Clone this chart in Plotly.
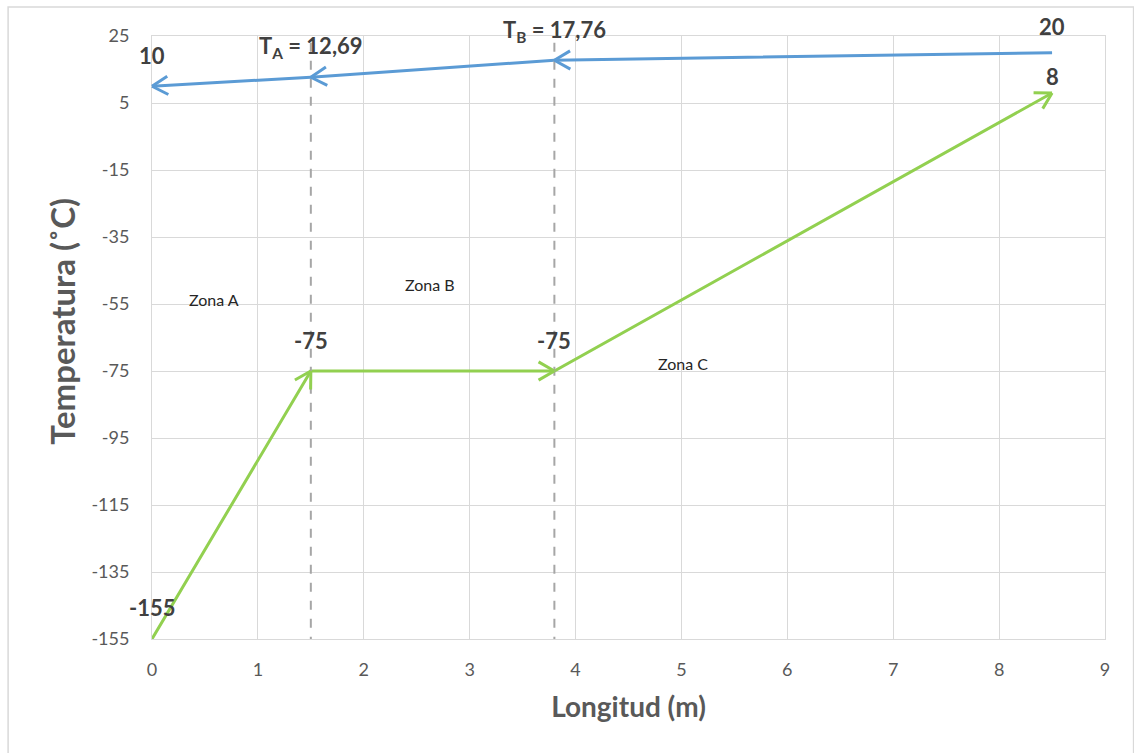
import math
import plotly.graph_objects as go

# Longitud (m) and temperatures (°C) for the two streams
longitud = [0, 1.5, 3.8, 8.5]
temp_caliente = [10, 12.69, 17.76, 20]     # blue stream, flows right -> left
temp_fria = [-155, -75, -75, 8]            # green stream, flows left -> right

divisiones = [1.5, 3.8]
zonas = ["Zona A", "Zona B", "Zona C"]
zona_x = [0.59, 2.63, 5.01]
zona_y = [-53.8, -49.3, -72.9]

x_ticks = list(range(0, 10))
y_ticks = [25, 5, -15, -35, -55, -75, -95, -115, -135, -155]
x_range = [0, 9]
y_range = [-155, 25]

AZUL = "#5b9bd5"
VERDE = "#92d050"
GRIS = "#595959"
FONT = "Lato"

W, H = 1134, 753
M = dict(l=152, r=29, t=36, b=114)
plot_w = W - M["l"] - M["r"]
plot_h = H - M["t"] - M["b"]
sx = plot_w / (x_range[1] - x_range[0])   # px per metre
sy = plot_h / (y_range[1] - y_range[0])   # px per degree

fig = go.Figure()

# zone boundaries
for xd in divisiones:
    fig.add_shape(type="line", xref="x", yref="y", x0=xd, x1=xd, y0=-157, y1=25,
                  line=dict(color="#a6a6a6", width=2, dash="dash"), layer="above")

fig.add_trace(go.Scatter(x=longitud, y=temp_caliente, mode="lines",
                         line=dict(color=AZUL, width=3), cliponaxis=False,
                         showlegend=False, hoverinfo="skip"))
fig.add_trace(go.Scatter(x=longitud, y=temp_fria, mode="lines",
                         line=dict(color=VERDE, width=3), cliponaxis=False,
                         showlegend=False, hoverinfo="skip"))

ann = []


def punta(x0, y0, x1, y1, color, largo=20, abertura=30):
    """Open chevron arrowhead at (x1, y1) for a segment coming from (x0, y0)."""
    dx = (x1 - x0) * sx
    dy = -(y1 - y0) * sy
    n = math.hypot(dx, dy)
    ux, uy = dx / n, dy / n
    for s in (1, -1):
        a = math.radians(abertura) * s
        rx = ux * math.cos(a) - uy * math.sin(a)
        ry = ux * math.sin(a) + uy * math.cos(a)
        ann.append(dict(x=x1, y=y1, xref="x", yref="y", ax=-largo * rx, ay=-largo * ry,
                        text="", showarrow=True, arrowhead=0, arrowwidth=3,
                        arrowcolor=color, standoff=0))


for i in range(len(longitud) - 1):
    # hot stream runs from longitud[i+1] to longitud[i]
    punta(longitud[i + 1], temp_caliente[i + 1], longitud[i], temp_caliente[i], AZUL)
    # cold stream runs from longitud[i] to longitud[i+1]
    punta(longitud[i], temp_fria[i], longitud[i + 1], temp_fria[i + 1], VERDE)

lbl_font = dict(family=FONT, size=22, color="#404040")


def etiqueta(x, y, texto, yshift):
    ann.append(dict(x=x, y=y, xref="x", yref="y", text=texto, showarrow=False,
                    yshift=yshift, font=lbl_font))


def coma(v):
    return f"{v:.2f}".replace(".", ",")


etiqueta(longitud[0], temp_caliente[0], "<b>%g</b>" % temp_caliente[0], 31)
etiqueta(longitud[1], temp_caliente[1], "<b>T<sub>A</sub> = %s</b>" % coma(temp_caliente[1]), 30)
etiqueta(longitud[2], temp_caliente[2], "<b>T<sub>B</sub> = %s</b>" % coma(temp_caliente[2]), 29)
etiqueta(longitud[3], temp_caliente[3], "<b>%g</b>" % temp_caliente[3], 26)
etiqueta(longitud[0], temp_fria[0], "<b>%g</b>" % temp_fria[0], 32)
etiqueta(longitud[1], temp_fria[1], "<b>%g</b>" % temp_fria[1], 31)
etiqueta(longitud[2], temp_fria[2], "<b>%g</b>" % temp_fria[2], 31)
etiqueta(longitud[3], temp_fria[3], "<b>%g</b>" % temp_fria[3], 16)

for z, zx, zy in zip(zonas, zona_x, zona_y):
    ann.append(dict(x=zx, y=zy, xref="x", yref="y", text=z, showarrow=False,
                    font=dict(family=FONT, size=16, color="#262626")))

# vertical axis title
ann.append(dict(x=-0.0944, y=0.526, xref="paper", yref="paper", text="<b>Temperatura (˚C)</b>",
                textangle=-90, showarrow=False, xanchor="center", yanchor="middle",
                font=dict(family=FONT, size=33, color=GRIS)))

# outer chart border
fig.add_shape(type="rect", xref="paper", yref="paper", x0=-0.151, x1=1.03, y0=-0.2, y1=1.048,
              line=dict(color="#d9d9d9", width=1.5), fillcolor="rgba(0,0,0,0)", layer="below")

fig.update_layout(
    width=W, height=H,
    margin=M,
    paper_bgcolor="white", plot_bgcolor="white",
    font=dict(family=FONT, color=GRIS),
    annotations=ann,
    showlegend=False,
)

fig.update_xaxes(range=x_range, tickvals=x_ticks, ticktext=[str(v) for v in x_ticks],
                 showgrid=True, gridcolor="#d9d9d9", gridwidth=1,
                 zeroline=False, showline=True, linecolor="#d9d9d9", mirror=True,
                 tickfont=dict(family=FONT, size=18, color=GRIS), ticks="", ticklabelstandoff=14,
                 title=dict(text="<b>Longitud (m)</b>", font=dict(family=FONT, size=28, color=GRIS),
                            standoff=18))
fig.update_yaxes(range=y_range, tickvals=y_ticks, ticktext=[str(v) for v in y_ticks],
                 showgrid=True, gridcolor="#d9d9d9", gridwidth=1,
                 zeroline=False, showline=True, linecolor="#d9d9d9", mirror=True,
                 tickfont=dict(family=FONT, size=18, color=GRIS), ticks="", ticklabelstandoff=18)

fig.write_html("out.html")
